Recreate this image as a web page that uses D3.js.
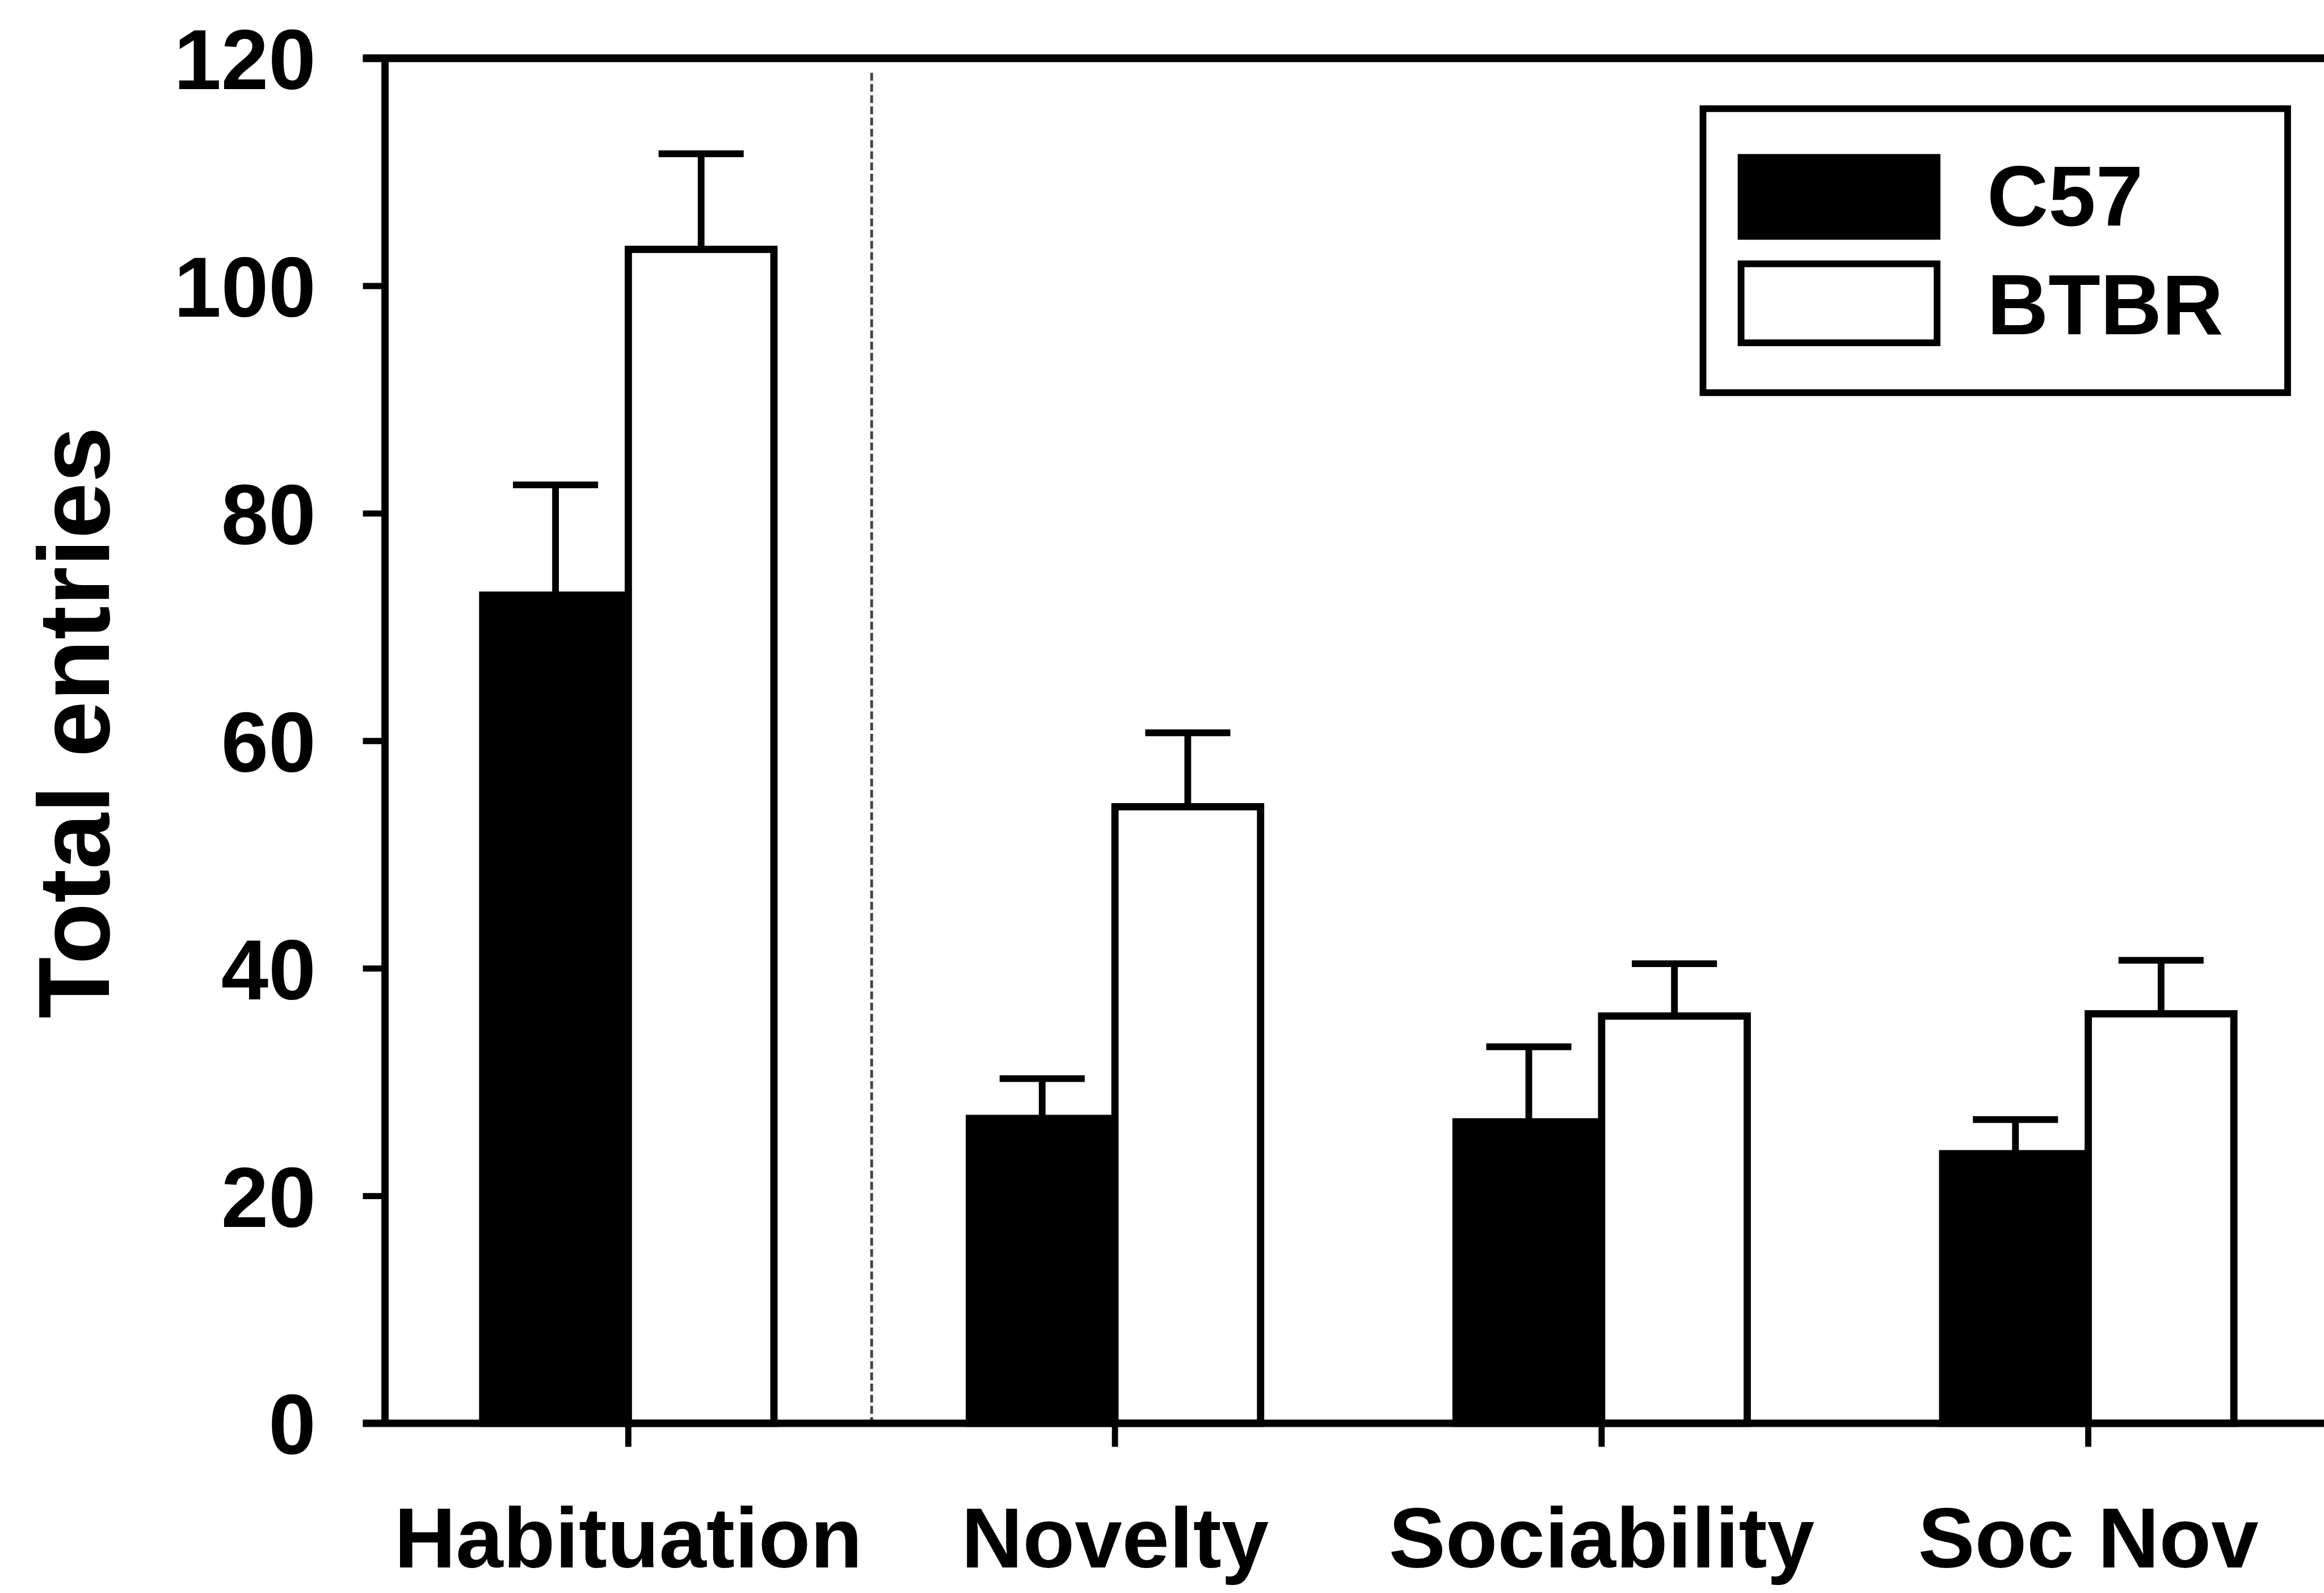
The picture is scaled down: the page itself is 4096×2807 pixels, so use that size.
<!DOCTYPE html>
<html>
<head>
<meta charset="utf-8">
<script src="https://cdn.jsdelivr.net/npm/d3@7"></script>
<style>
  html, body { margin: 0; padding: 0; background: #fff; }
  svg text { font-family: "Liberation Sans", Arial, sans-serif; font-weight: bold; fill: #000; }
</style>
</head>
<body>
<svg id="chart" width="4096" height="2807"></svg>
<script>
// Total entries per test phase, C57 vs BTBR (mean + SEM)
var categories = ['Habituation', 'Novelty', 'Sociability', 'Soc Nov']
var strains = ['C57', 'BTBR']
var c57Mean = [72.8, 26.8, 26.5, 23.7]
var c57Sem = [9.7, 3.5, 6.6, 3.0]
var btbrMean = [103.2, 54.2, 35.8, 36.0]
var btbrSem = [8.4, 6.5, 4.6, 4.7]
var yTicks = [0, 20, 40, 60, 80, 100, 120]
var fills = {C57: '#000', BTBR: '#fff'}

var k = 0.987 // reference -> window
var svg = d3.select('#chart'),
	g = svg.append('g').attr('transform', 'scale(' + k + ')')

// layout in reference pixels
var x0 = 687, xEnd = 4163.5, yTop = 104, yBase = 2541

var x = d3.scaleBand().domain(categories)
	.range([x0 + 0.5, xEnd])
	.paddingInner(0.4016).paddingOuter(0.2008)
var x1 = d3.scaleBand().domain(strains).range([0, x.bandwidth()])
var y = d3.scaleLinear().domain([0, 120]).range([yBase, yTop])

var rows = []
categories.forEach(function(cat, i) {
	rows.push({cat: cat, strain: 'C57', mean: c57Mean[i], sem: c57Sem[i]})
	rows.push({cat: cat, strain: 'BTBR', mean: btbrMean[i], sem: btbrSem[i]})
})
function cx(d) { return x(d.cat) + x1(d.strain) + x1.bandwidth() / 2 }

// dotted separator between habituation and the test phases
var sepX = (x('Habituation') + x.bandwidth() + x('Novelty')) / 2
g.append('line')
	.attr('x1', sepX).attr('x2', sepX)
	.attr('y1', yTop + 26).attr('y2', yBase)
	.attr('stroke', '#444').attr('stroke-width', 5)
	.attr('stroke-dasharray', '14,6')

// error bars (upper only)
var err = g.append('g').attr('stroke', '#000').attr('stroke-width', 12)
err.selectAll('line.stem').data(rows).enter().append('line')
	.attr('class', 'stem')
	.attr('x1', cx).attr('x2', cx)
	.attr('y1', function(d) { return y(d.mean) })
	.attr('y2', function(d) { return y(d.mean + d.sem) })
err.selectAll('line.cap').data(rows).enter().append('line')
	.attr('class', 'cap')
	.attr('x1', function(d) { return cx(d) - 76 })
	.attr('x2', function(d) { return cx(d) + 76 })
	.attr('y1', function(d) { return y(d.mean + d.sem) })
	.attr('y2', function(d) { return y(d.mean + d.sem) })

// bars
g.append('g').selectAll('rect').data(rows).enter().append('rect')
	.attr('x', function(d) { return x(d.cat) + x1(d.strain) })
	.attr('y', function(d) { return y(d.mean) })
	.attr('width', x1.bandwidth())
	.attr('height', function(d) { return y(0) - y(d.mean) })
	.attr('fill', function(d) { return fills[d.strain] })
	.attr('stroke', '#000').attr('stroke-width', 13)

// top frame line
g.append('line')
	.attr('x1', x0 - 39).attr('x2', 4200)
	.attr('y1', y(120)).attr('y2', y(120))
	.attr('stroke', '#000').attr('stroke-width', 14)

// y axis
var yAxis = g.append('g').attr('transform', 'translate(' + x0 + ',0)')
	.call(d3.axisLeft(y).tickValues(yTicks).tickSize(39).tickSizeOuter(0).tickPadding(84))
yAxis.select('.domain').attr('stroke-width', 13)
yAxis.selectAll('.tick line').attr('stroke-width', 11)
yAxis.selectAll('.tick text')
	.attr('font-size', 152).attr('dy', '0.36em')
	.style('font-family', '"Liberation Sans", Arial, sans-serif')

// x axis
var xAxis = g.append('g').attr('transform', 'translate(0,' + yBase + ')')
	.call(d3.axisBottom(x).tickSize(42).tickSizeOuter(0))
xAxis.select('.domain').remove()
xAxis.append('line')
	.attr('x1', x0 - 39).attr('x2', 4200)
	.attr('stroke', '#000').attr('stroke-width', 13)
xAxis.selectAll('.tick line').attr('stroke-width', 11)
xAxis.selectAll('.tick text')
	.attr('font-size', 152).attr('y', 257).attr('dy', 0)
	.style('font-family', '"Liberation Sans", Arial, sans-serif')

// axis title
g.append('text').text('Total entries')
	.attr('transform', 'translate(195,1290) rotate(-90)')
	.attr('text-anchor', 'middle')
	.attr('font-size', 180)

// legend
var leg = g.append('g')
leg.append('rect')
	.attr('x', 3041).attr('y', 194).attr('width', 1044).attr('height', 507)
	.attr('fill', '#fff').attr('stroke', '#000').attr('stroke-width', 12)
strains.forEach(function(s, i) {
	leg.append('rect')
		.attr('x', 3109).attr('y', 281 + i * 190).attr('width', 350).attr('height', 141)
		.attr('fill', fills[s]).attr('stroke', '#000').attr('stroke-width', 12)
	leg.append('text').text(s)
		.attr('x', 3548).attr('y', 403 + i * 194)
		.attr('font-size', 152)
})
</script>
</body>
</html>
